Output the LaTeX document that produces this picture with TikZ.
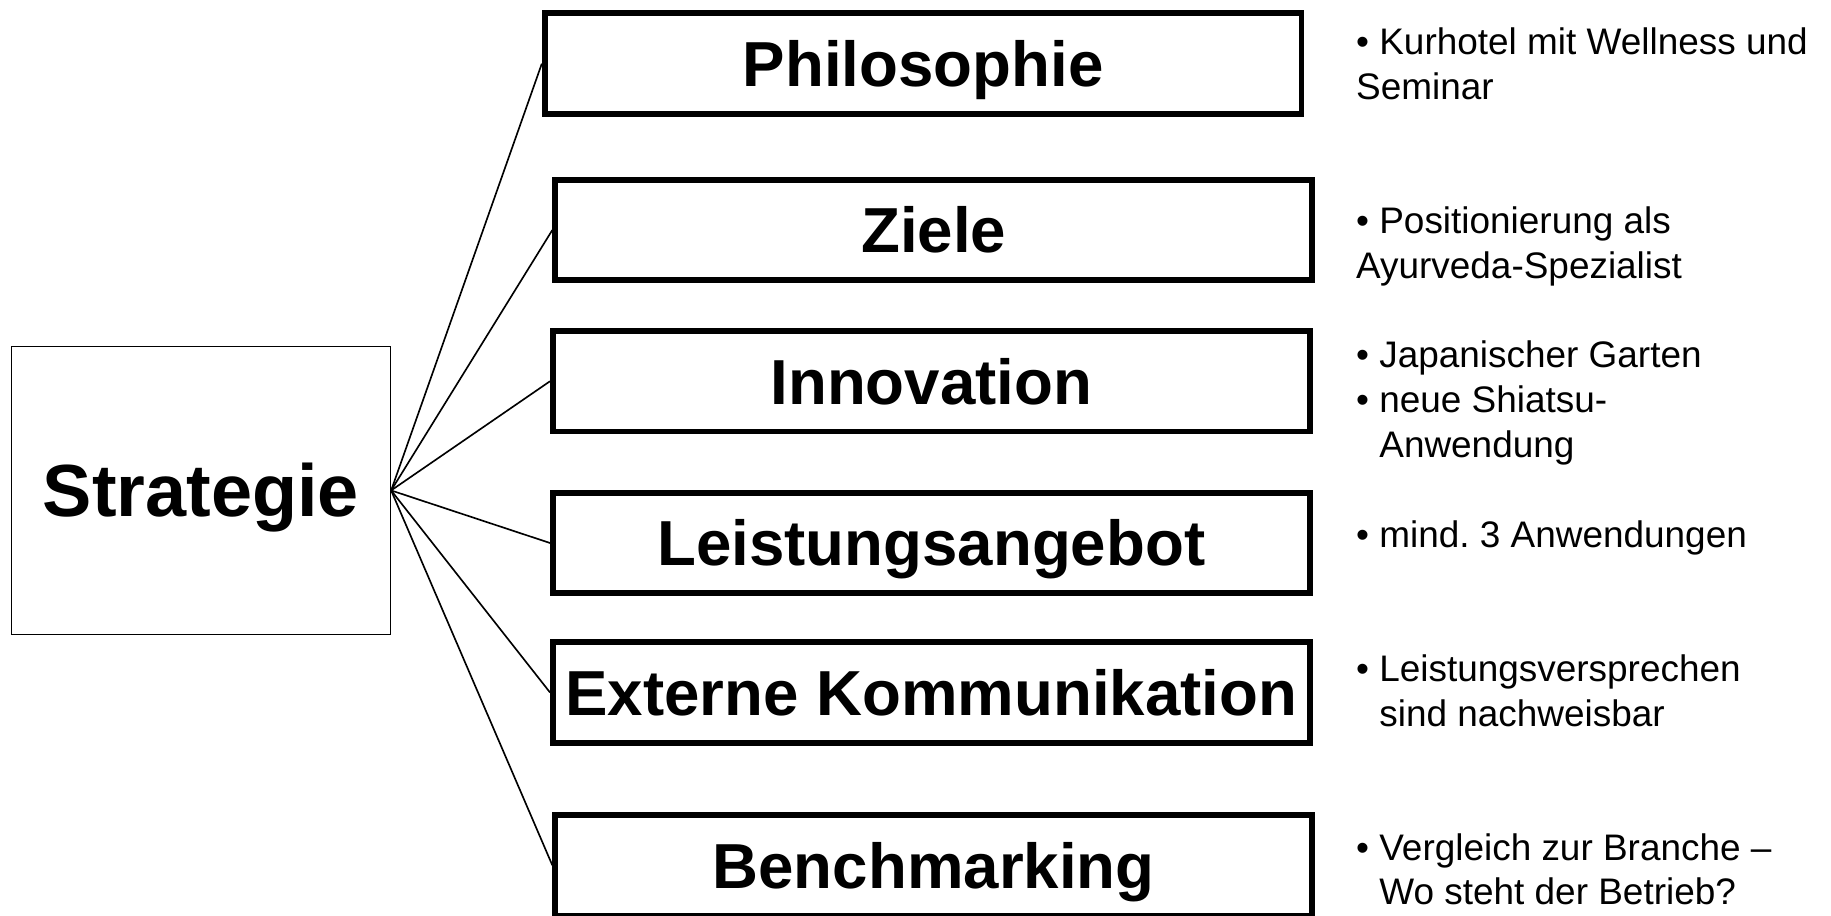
\documentclass[tikz,border=0pt]{standalone}
\usepackage{fontspec}
\setmainfont{Liberation Sans}
\frenchspacing
\tikzset{%
  hub/.style={draw, line width=0.8pt, minimum width=6.49cm, minimum height=4.93cm, inner sep=0pt, text height=25.8pt, text depth=0pt, font=\fontsize{36}{43}\selectfont\bfseries},%
  topic/.style={draw, line width=0.1cm, minimum width=12.96cm, minimum height=1.72cm, inner sep=0pt, text height=22.2pt, text depth=0pt, font=\fontsize{31}{37}\selectfont\bfseries},%
  note/.style={anchor=base west, inner sep=0pt, align=left, font=\fontsize{18}{21.9}\selectfont},%
  spoke/.style={line width=0.8pt}%
}

\begin{document}
\begin{tikzpicture}%
\useasboundingbox (0,0) rectangle (31.36, 15.68);%
\node[hub] (strategie) at (3.44, 7.28) {Strategie};%
\node[topic] (philosophie) at (15.81, 14.59) {Philosophie};%
\node[topic] (ziele) at (15.99, 11.74) {Ziele};%
\node[topic] (innovation) at (15.95, 9.15) {Innovation};%
\node[topic] (leistung) at (15.95, 6.38) {Leistungsangebot};%
\node[topic] (extern) at (15.95, 3.82) {Externe Kommunikation};%
\node[topic] (bench) at (15.99, 0.86) {Benchmarking};%
\foreach \t in {philosophie, ziele, innovation, leistung, extern, bench}%
  \draw[spoke] (strategie.east) -- (\t.west);%
% notes sit on the baseline of their last line
\node[note] (n-philosophie) at (23.22, 13.98) {• Kurhotel mit Wellness und\\Seminar};%
\node[note] (n-ziele) at (23.22, 10.91) {• Positionierung als\\Ayurveda-Spezialist};%
\node[note] (n-innovation) at (23.22, 7.84) {• Japanischer Garten\\• neue Shiatsu-\\\hphantom{•~}Anwendung};%
\node[note] (n-leistung) at (23.22, 6.31) {• mind. 3 Anwendungen};%
\node[note] (n-extern) at (23.22, 3.23) {• Leistungsversprechen\\\hphantom{•~}sind nachweisbar};%
\node[note] (n-bench) at (23.22, 0.18) {• Vergleich zur Branche –\\\hphantom{•~}Wo steht der Betrieb?};%
\end{tikzpicture}
\end{document}
